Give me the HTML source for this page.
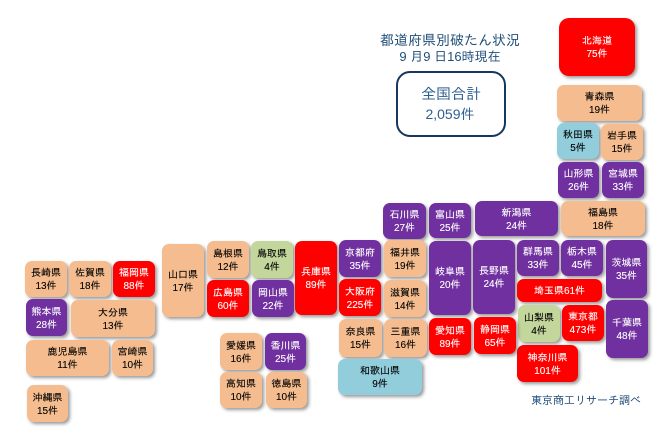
<!DOCTYPE html>
<html lang="ja">
<head>
<meta charset="utf-8">
<title>都道府県別破たん状況</title>
<style>
html,body{margin:0;padding:0;background:#fff}
#map{position:relative;width:669px;height:434px;overflow:hidden;background:#fff;font-family:"Liberation Sans","IPAGothic","Noto Sans CJK JP",sans-serif}
.tile{position:absolute;box-sizing:border-box;padding-top:2px;border-radius:7px;box-shadow:2px 2px 3px rgba(70,70,70,.55);display:flex;flex-direction:column;align-items:center;justify-content:center;font-size:10px;line-height:13px;text-align:center;white-space:nowrap;-webkit-text-stroke:.1px currentColor}
.tile span{display:block}
#title-block{position:absolute;left:350px;top:32px;width:200px;text-align:center;font-size:14px;line-height:16px;color:#1f4e79}
#title-date{font-size:13px}
#total-box{position:absolute;left:396px;top:71px;width:110px;height:66px;box-sizing:border-box;border:2px solid #17375e;border-radius:14px;text-align:center;color:#2f5f8f}
#total-label{position:absolute;left:0;right:0;top:12px;font-size:15px;line-height:20px}
#total-value{position:absolute;left:-2px;right:0;top:32px;font-size:14px;line-height:18px}
#credit{position:absolute;left:531px;top:394px;font-size:11px;line-height:14px;color:#1f4e79;white-space:nowrap}
#hokkaido{left:559px;top:18px;width:76px;height:58px;border-radius:10px}
#aomori{left:557px;top:85px;width:85px;height:36px}
#akita{left:557px;top:123px;width:42px;height:36px}
#iwate{left:601px;top:124px;width:42px;height:36px}
#yamagata{left:558px;top:162px;width:41px;height:36px}
#miyagi{left:602px;top:162px;width:42px;height:36px}
#ishikawa{left:383px;top:203px;width:43px;height:36px}
#toyama{left:429px;top:203px;width:42px;height:35px}
#niigata{left:475px;top:201px;width:83px;height:35px}
#fukushima{left:561px;top:201px;width:84px;height:35px}
#nagasaki{left:25px;top:261px;width:42px;height:36px}
#saga{left:69px;top:261px;width:42px;height:36px}
#fukuoka{left:113px;top:261px;width:42px;height:36px}
#kumamoto{left:26px;top:299px;width:41px;height:37px}
#oita{left:71px;top:300px;width:84px;height:37px}
#kagoshima{left:26px;top:340px;width:83px;height:36px}
#miyazaki{left:112px;top:340px;width:41px;height:36px}
#okinawa{left:27px;top:385px;width:41px;height:37px}
#yamaguchi{left:162px;top:244px;width:42px;height:73px}
#shimane{left:207px;top:241px;width:42px;height:37px}
#tottori{left:251px;top:241px;width:42px;height:37px}
#hiroshima{left:207px;top:280px;width:42px;height:37px}
#okayama{left:252px;top:280px;width:42px;height:37px}
#hyogo{left:295px;top:241px;width:42px;height:74px}
#kyoto{left:339px;top:240px;width:42px;height:37px}
#osaka{left:339px;top:279px;width:42px;height:37px}
#fukui{left:384px;top:240px;width:42px;height:37px}
#shiga{left:384px;top:280px;width:42px;height:37px}
#nara{left:339px;top:319px;width:43px;height:38px}
#mie{left:384px;top:319px;width:43px;height:38px}
#wakayama{left:338px;top:359px;width:84px;height:36px}
#ehime{left:220px;top:333px;width:42px;height:37px}
#kagawa{left:265px;top:333px;width:41px;height:37px}
#kochi{left:220px;top:372px;width:42px;height:36px}
#tokushima{left:266px;top:372px;width:41px;height:36px}
#gifu{left:429px;top:241px;width:42px;height:74px}
#nagano{left:473px;top:240px;width:42px;height:74px}
#gunma{left:517px;top:240px;width:42px;height:36px}
#tochigi{left:561px;top:240px;width:42px;height:36px}
#ibaraki{left:606px;top:240px;width:41px;height:58px}
#saitama{left:517px;top:279px;width:85px;height:23px;display:block;line-height:22px}
#saitama span{display:inline}
#yamanashi{left:518px;top:305px;width:42px;height:37px}
#tokyo{left:562px;top:305px;width:42px;height:36px}
#chiba{left:606px;top:300px;width:42px;height:58px}
#kanagawa{left:517px;top:345px;width:61px;height:37px}
#aichi{left:429px;top:318px;width:42px;height:37px}
#shizuoka{left:474px;top:317px;width:42px;height:37px}
</style>
</head>
<body>
<div id="map">
  <div id="title-block">都道府県別破たん状況<br><span id="title-date">9 月9 日16時現在</span></div>
  <div id="total-box">
    <div id="total-label">全国合計</div>
    <div id="total-value">2,059件</div>
  </div>
  <div id="credit">東京商工リサーチ調べ</div>
</div>
<script>
var tileIds = ["hokkaido","aomori","akita","iwate","yamagata","miyagi","ishikawa","toyama","niigata","fukushima","nagasaki","saga","fukuoka","kumamoto","oita","kagoshima","miyazaki","okinawa","yamaguchi","shimane","tottori","hiroshima","okayama","hyogo","kyoto","osaka","fukui","shiga","nara","mie","wakayama","ehime","kagawa","kochi","tokushima","gifu","nagano","gunma","tochigi","ibaraki","saitama","yamanashi","tokyo","chiba","kanagawa","aichi","shizuoka"];
var prefectures = ["北海道","青森県","秋田県","岩手県","山形県","宮城県","石川県","富山県","新潟県","福島県","長崎県","佐賀県","福岡県","熊本県","大分県","鹿児島県","宮崎県","沖縄県","山口県","島根県","鳥取県","広島県","岡山県","兵庫県","京都府","大阪府","福井県","滋賀県","奈良県","三重県","和歌山県","愛媛県","香川県","高知県","徳島県","岐阜県","長野県","群馬県","栃木県","茨城県","埼玉県","山梨県","東京都","千葉県","神奈川県","愛知県","静岡県"];
var counts = [75,19,5,15,26,33,27,25,24,18,13,18,88,28,13,11,10,15,17,12,4,60,22,89,35,225,19,14,15,16,9,16,25,10,10,20,24,33,45,35,61,4,473,48,101,89,65];
var binMinimums = [50,20,10,5,0];
var binFills = ["#ff0000","#7030a0","#f5bd8f","#92cddc","#c3d69b"];
var binInks = ["#ffffff","#ffffff","#000000","#000000","#000000"];

function binIndex(value){
  for (var b = 0; b < binMinimums.length; b++) {
    if (value >= binMinimums[b]) return b;
  }
  return binMinimums.length - 1;
}

var map = document.getElementById('map');
for (var i = 0; i < tileIds.length; i++) {
  var bin = binIndex(counts[i]);
  var el = document.createElement('div');
  el.className = 'tile';
  el.id = tileIds[i];
  el.style.background = binFills[bin];
  el.style.color = binInks[bin];
  
  
  var nameEl = document.createElement('span');
  nameEl.textContent = prefectures[i];
  
  
  var countEl = document.createElement('span');
  countEl.textContent = counts[i] + '件';
  
  
  el.appendChild(nameEl);
  el.appendChild(countEl);
  map.appendChild(el);
}
</script>
</body>
</html>
